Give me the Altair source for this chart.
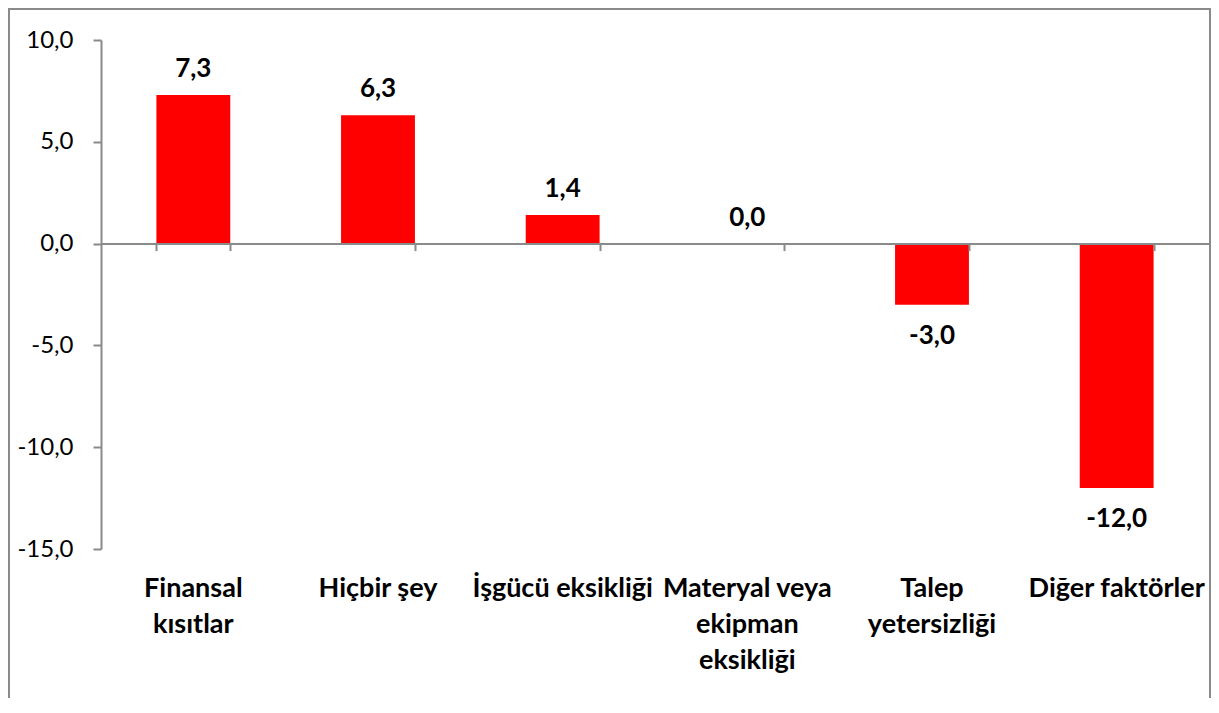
import json
import altair as alt
import pandas as pd

categories = ["Finansal kısıtlar", "Hiçbir şey", "İşgücü eksikliği",
              "Materyal veya ekipman eksikliği", "Talep yetersizliği", "Diğer faktörler"]
values = [7.3, 6.3, 1.4, 0.0, -3.0, -12.0]
label_lines = [["Finansal", "kısıtlar"], ["Hiçbir şey"], ["İşgücü eksikliği"],
               ["Materyal veya", "ekipman", "eksikliği"], ["Talep", "yetersizliği"],
               ["Diğer faktörler"]]
y_ticks = [-15, -10, -5, 0, 5, 10]

df = pd.DataFrame({"cat": categories, "v": values})
lines_map = json.dumps({c: l for c, l in zip(categories, label_lines)}, ensure_ascii=False)

W, H = 1108, 509
FONT = "Lato"
GRAY = "#8a8a8a"
zero_offset = -(H - H * 10 / 25)

fmt = "(datum.v < 0 ? '-' : '') + replace(format(abs(datum.v), '.1f'), '.', ',')"

xscale = alt.Scale(paddingInner=0.6, paddingOuter=0.3)
yscale = alt.Scale(domain=[-15, 10], nice=False, zero=False)

base = alt.Chart(df).transform_calculate(lab=fmt)

bars = base.mark_bar(color="#FF0000").encode(
    x=alt.X("cat:N", sort=categories, scale=xscale, title=None,
            axis=alt.Axis(orient="bottom", domain=False, ticks=False, labelAngle=0,
                          labelFont=FONT, labelFontSize=27, labelFontWeight="bold",
                          labelColor="#000000", labelPadding=26, labelLineHeight=36,
                          labelLimit=0, labelOverlap=False, labelBound=False,
                          labelExpr=f"{lines_map}[datum.label] || datum.label")),
    y=alt.Y("v:Q", scale=yscale, title=None,
            axis=alt.Axis(values=y_ticks, grid=False, domainColor=GRAY, domainWidth=2,
                          tickColor=GRAY, tickWidth=2, tickSize=8, labelPadding=20,
                          labelFont=FONT, labelFontSize=24, labelColor="#000000",
                          labelExpr="(datum.value < 0 ? '-' : '') + replace(format(abs(datum.value), '.1f'), '.', ',')")),
)

zero_axis = base.mark_bar(opacity=0).encode(
    x=alt.X("cat:N", sort=categories, scale=xscale, title=None,
            axis=alt.Axis(orient="bottom", offset=zero_offset, labels=False, grid=False,
                          domainColor=GRAY, domainWidth=2, tickColor=GRAY, tickWidth=2,
                          tickSize=7, tickBand="extent", zindex=2)),
    y=alt.Y("v:Q", scale=yscale),
)

pos_text = base.transform_filter("datum.v >= 0").mark_text(
    font=FONT, fontSize=26, fontWeight="bold", color="#000000", baseline="middle", dy=-26
).encode(x=alt.X("cat:N", sort=categories, axis=None), y=alt.Y("v:Q"), text="lab:N")

neg_text = base.transform_filter("datum.v < 0").mark_text(
    font=FONT, fontSize=26, fontWeight="bold", color="#000000", baseline="middle", dy=31
).encode(x=alt.X("cat:N", sort=categories, axis=None), y=alt.Y("v:Q"), text="lab:N")

frame = alt.Chart(pd.DataFrame({"f": [0]})).mark_rect(
    filled=False, stroke=GRAY, strokeWidth=2
).encode(x=alt.value(-92), x2=alt.value(W + 1), y=alt.value(-31), y2=alt.value(H + 300))

chart = alt.layer(frame, bars, zero_axis, pos_text, neg_text).resolve_axis(
    x="independent"
).properties(
    width=W, height=H,
    padding={"left": 93, "top": 32, "right": 2, "bottom": 149},
    autosize=alt.AutoSizeParams(type="none"),
    background="white",
).configure_axis(grid=False).configure_view(stroke=None, strokeWidth=0)

chart.save("out.html", embed_options={"renderer": "svg", "actions": False})
